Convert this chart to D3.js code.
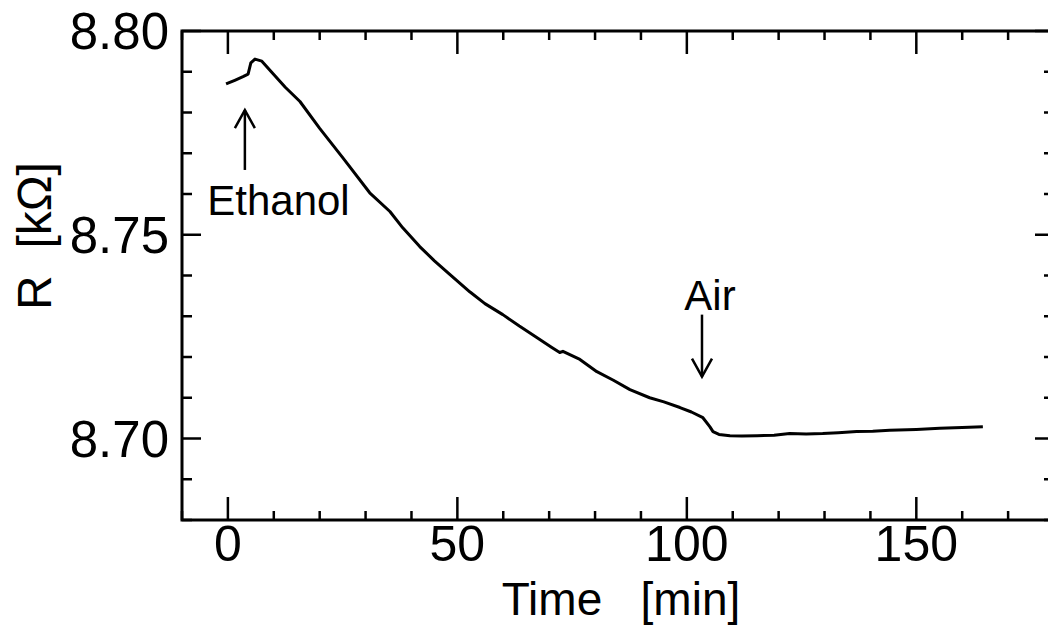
<!DOCTYPE html>
<html>
<head>
<meta charset="utf-8">
<script src="https://cdn.jsdelivr.net/npm/d3@7"></script>
<style>
  html, body { margin: 0; padding: 0; background: #fff; }
  svg { display: block; }
  text { font-family: "Liberation Sans", Arial, Helvetica, sans-serif; fill: #000; white-space: pre; }
</style>
</head>
<body>
<svg id="chart" width="1048" height="627"></svg>
<script>
// Sensor resistance during an ethanol exposure, then back to air
const timeMin = [-0.4, 1.5, 3.3, 4.4, 5.0, 5.9, 7.4, 9.8, 12.5, 15.7, 20.0, 25.1, 30.9, 35.3, 38.1,
                 41.8, 45.0, 48.4, 52.7, 56.0, 59.9, 63.5, 67.3, 70.5, 72.3, 73.0, 76.7, 80.4, 84.0,
                 87.6, 91.9, 95.0, 98.5, 101.0, 103.5, 105.0, 105.7, 107.0, 109.4, 112.0, 115.3, 119.0,
                 122.4, 126.0, 129.6, 133.0, 137.0, 140.5, 144.2, 150.0, 155.1, 160.0, 164.5];
const resistance = [8.7870, 8.7879, 8.7888, 8.7894, 8.7922, 8.7931, 8.7926, 8.7896, 8.7862, 8.7827,
                    8.7761, 8.7688, 8.7603, 8.7557, 8.7517, 8.7471, 8.7436, 8.7402, 8.7360, 8.7331,
                    8.7304, 8.7276, 8.7248, 8.7224, 8.7211, 8.7214, 8.7194, 8.7164, 8.7143, 8.7120,
                    8.7100, 8.7090, 8.7076, 8.7065, 8.7051, 8.7029, 8.7017, 8.7010, 8.7007, 8.7006,
                    8.7007, 8.7008, 8.7012, 8.7011, 8.7012, 8.7014, 8.7017, 8.7018, 8.7020, 8.7022,
                    8.7025, 8.7027, 8.7029];

// Axis ticks
const xMajorTicks = [0, 50, 100, 150];
const xMinorTicks = [-10, 10, 20, 30, 40, 60, 70, 80, 90, 110, 120, 130, 140, 160, 170, 180];
const yMajorTicks = [8.70, 8.75, 8.80];
const yMinorTicks = [8.68, 8.69, 8.71, 8.72, 8.73, 8.74, 8.76, 8.77, 8.78, 8.79];
const yTickLabels = ["8.70", "8.75", "8.80"];

// Gas switching events
const eventNames = ["Ethanol", "Air"];
const eventTimes = [3.7, 103.3];

const svg = d3.select("#chart");
const margin = { left: 182, right: 1054, top: 31, bottom: 520 };

const x = d3.scaleLinear().domain([-10, 180]).range([margin.left, margin.right]);
const y = d3.scaleLinear().domain([8.68, 8.80]).range([margin.bottom, margin.top]);

const ink = "#000";

// Frame
svg.append("rect")
  .attr("x", margin.left).attr("y", margin.top)
  .attr("width", margin.right - margin.left)
  .attr("height", margin.bottom - margin.top)
  .attr("fill", "none").attr("stroke", ink).attr("stroke-width", 3);

// Inward ticks on all four sides
function tickSet(vals, len, axis) {
  const g = svg.append("g").attr("stroke", ink).attr("stroke-width", 2.5);
  vals.forEach(v => {
    if (axis === "x") {
      g.append("line").attr("x1", x(v)).attr("x2", x(v))
        .attr("y1", margin.bottom).attr("y2", margin.bottom - len);
      g.append("line").attr("x1", x(v)).attr("x2", x(v))
        .attr("y1", margin.top).attr("y2", margin.top + len);
    } else {
      g.append("line").attr("y1", y(v)).attr("y2", y(v))
        .attr("x1", margin.left).attr("x2", margin.left + len);
      g.append("line").attr("y1", y(v)).attr("y2", y(v))
        .attr("x1", margin.right).attr("x2", margin.right - len);
    }
  });
}
tickSet(xMajorTicks, 23, "x");
tickSet(xMinorTicks, 9, "x");
tickSet(yMajorTicks, 19, "y");
tickSet(yMinorTicks, 10, "y");

// Tick labels
svg.append("g").selectAll("text").data(xMajorTicks).join("text")
  .attr("x", d => x(d)).attr("y", 561)
  .attr("text-anchor", "middle")
  .attr("font-size", 50)
  .text(d => d3.format("d")(d));

svg.append("g").selectAll("text").data(yMajorTicks).join("text")
  .attr("x", 169).attr("y", d => y(d) + 18)
  .attr("text-anchor", "end")
  .attr("font-size", 51)
  .text((d, i) => yTickLabels[i]);

// Axis titles
svg.append("text")
  .attr("x", 621).attr("y", 615)
  .attr("text-anchor", "middle")
  .attr("font-size", 46)
  .text("Time   [min]");

svg.append("text")
  .attr("transform", "translate(51,236) rotate(-90)")
  .attr("text-anchor", "middle")
  .attr("font-size", 48)
  .text("R  [k\u03A9]");

// Resistance trace
const pts = timeMin.map((t, i) => [t, resistance[i]]);
svg.append("path")
  .datum(pts)
  .attr("fill", "none")
  .attr("stroke", ink)
  .attr("stroke-width", 3)
  .attr("stroke-linejoin", "round")
  .attr("d", d3.line().x(d => x(d[0])).y(d => y(d[1])));

// Event arrows and labels
const arrows = svg.append("g").attr("stroke", ink).attr("stroke-width", 2.5).attr("fill", "none");

// Ethanol: upward arrow under the rise
const ex = x(eventTimes[0]);
const eTail = y(8.7659), eTip = y(8.7806);
arrows.append("line").attr("x1", ex).attr("x2", ex).attr("y1", eTail).attr("y2", eTip);
arrows.append("polyline").attr("points",
  [[ex - 10, eTip + 18], [ex, eTip], [ex + 10, eTip + 18]].map(p => p.join(",")).join(" "));
svg.append("text")
  .attr("x", x(-4.5)).attr("y", 215)
  .attr("font-size", 42)
  .text(eventNames[0]);

// Air: downward arrow above the step
const ax = x(eventTimes[1]);
const aTail = y(8.7304), aTip = y(8.7152);
arrows.append("line").attr("x1", ax).attr("x2", ax).attr("y1", aTail).attr("y2", aTip);
arrows.append("polyline").attr("points",
  [[ax - 10, aTip - 18], [ax, aTip], [ax + 10, aTip - 18]].map(p => p.join(",")).join(" "));
svg.append("text")
  .attr("x", ax + 8).attr("y", 310)
  .attr("text-anchor", "middle")
  .attr("font-size", 42)
  .text(eventNames[1]);
</script>
</body>
</html>
